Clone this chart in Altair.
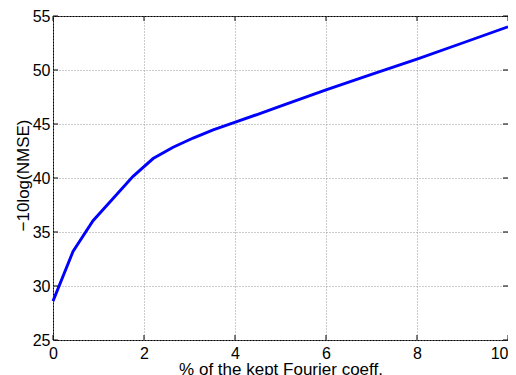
import altair as alt
import pandas as pd

# data
x_vals = [0, 0.44, 0.88, 1.32, 1.76, 2.2, 2.64, 3.08, 3.52, 3.96, 4.5, 5, 6, 7, 8, 9, 10]
y_vals = [28.6, 33.2, 36.05, 38.1, 40.15, 41.8, 42.85, 43.7, 44.45, 45.1, 45.9, 46.65, 48.15, 49.6, 51.0, 52.5, 54.0]
x_ticks = [0, 2, 4, 6, 8, 10]
y_ticks = [25, 30, 35, 40, 45, 50, 55]

W, H = 455, 324
FONT = "Liberation Sans"

df = pd.DataFrame({"x": x_vals, "y": y_vals})
xt = pd.DataFrame({"x": x_ticks})
yt = pd.DataFrame({"y": y_ticks})

xscale = alt.Scale(domain=[0, 10], nice=False, zero=False)
yscale = alt.Scale(domain=[25, 55], nice=False, zero=False)

xaxis = alt.Axis(values=x_ticks, title="% of the kept Fourier coeff.",
                 grid=True, gridDash=[1, 2], gridColor="#999999",
                 domain=False, ticks=False, labelPadding=5,
                 labelFontSize=16, labelFont=FONT, labelColor="black",
                 labelAlign=alt.ExprRef(expr="datum.value == 10 ? 'right' : 'center'"),
                 titleFont=FONT, titleFontSize=17, titleFontWeight="normal",
                 titleColor="black", titleX=W / 2, titleY=34,
                 titleBaseline="alphabetic", titleAlign="center",
                 labelFlush=False, labelOverlap=False)
yaxis = alt.Axis(values=y_ticks, title="\u221210log(NMSE)",
                 grid=True, gridDash=[1, 2], gridColor="#999999",
                 domain=False, ticks=False, labelPadding=3,
                 labelFontSize=16, labelFont=FONT, labelColor="black",
                 titleFont=FONT, titleFontSize=17, titleFontWeight="normal",
                 titleColor="black", titleX=-25, titleY=H / 2 - 3,
                 titleAngle=270, titleBaseline="alphabetic", titleAlign="center",
                 labelFlush=False, labelOverlap=False)

line = alt.Chart(df).mark_line(color="#0000ff", strokeWidth=2.9).encode(
    x=alt.X("x:Q", scale=xscale, axis=xaxis),
    y=alt.Y("y:Q", scale=yscale, axis=yaxis),
)

tick_style = dict(color="black", strokeWidth=1)
xt_bot = alt.Chart(xt).mark_rule(**tick_style).encode(
    x=alt.X("x:Q", scale=xscale, axis=xaxis), y=alt.value(H), y2=alt.value(H - 5))
xt_top = alt.Chart(xt).mark_rule(**tick_style).encode(
    x=alt.X("x:Q", scale=xscale, axis=xaxis), y=alt.value(0), y2=alt.value(5))
yt_left = alt.Chart(yt).mark_rule(**tick_style).encode(
    y=alt.Y("y:Q", scale=yscale, axis=yaxis), x=alt.value(0), x2=alt.value(5))
yt_right = alt.Chart(yt).mark_rule(**tick_style).encode(
    y=alt.Y("y:Q", scale=yscale, axis=yaxis), x=alt.value(W), x2=alt.value(W - 5))

chart = alt.layer(line, xt_bot, xt_top, yt_left, yt_right).properties(
    width=W, height=H,
    padding={"left": 45, "top": 8, "right": 0, "bottom": 35},
    autosize=alt.AutoSizeParams(type="none"),
    background="white",
).configure_view(stroke="black", strokeWidth=1)

chart.save("out.html", embed_options={"renderer": "svg", "actions": False})
